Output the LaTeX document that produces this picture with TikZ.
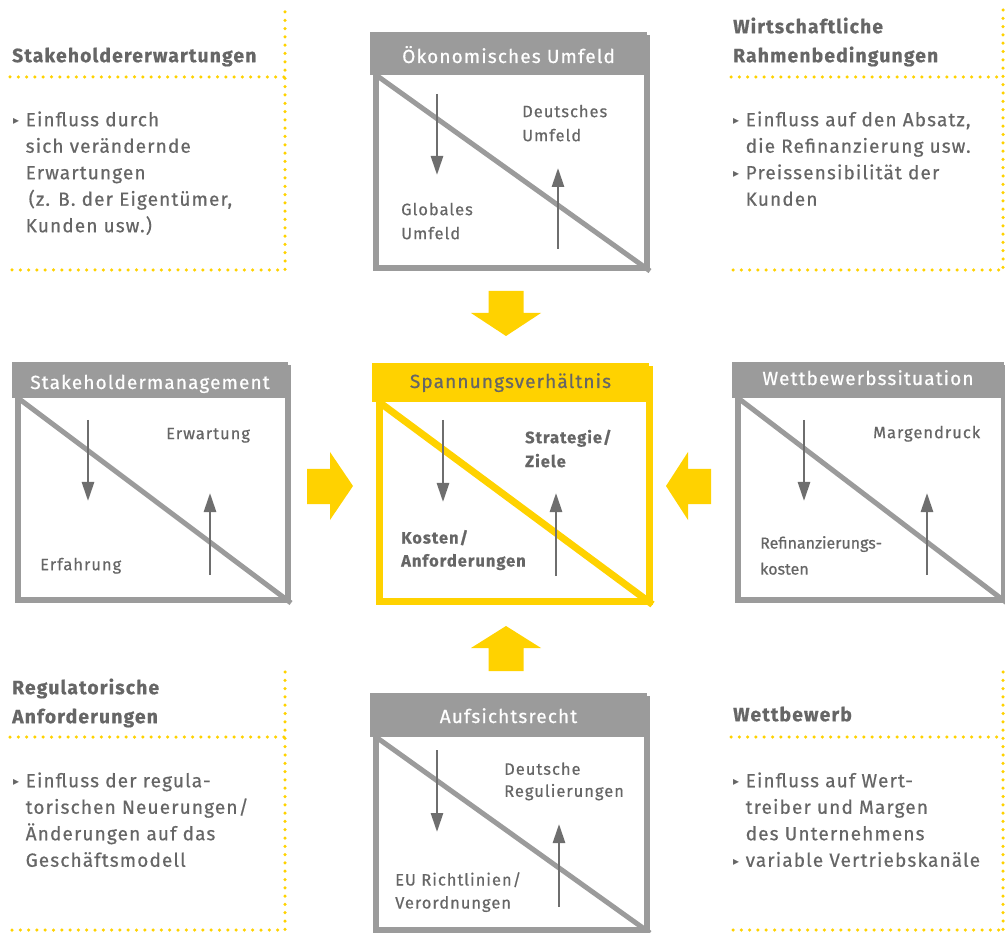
\documentclass[tikz,border=0pt]{standalone}
\usepackage{fontspec}
\setmainfont{Fira Sans}[LetterSpace=6, FakeBold=0.6]
\newfontfamily\plainfont{Fira Sans}[FakeBold=0.6]
\newfontfamily\symfont{DejaVu Sans}
\usetikzlibrary{arrows.meta}

\definecolor{eygray}{HTML}{9B9B9B}
\definecolor{eytext}{HTML}{666666}
\definecolor{eyarrow}{HTML}{6E6E6E}
\definecolor{eyyellow}{HTML}{FFD200}

% bullet and hanging indent for the side lists
\newcommand{\bul}{\makebox[12.5pt][l]{\raisebox{1.5pt}{\symfont\fontsize{12}{12}\selectfont ▸}}}
\newcommand{\ind}{\hspace*{12.5pt}}

\begin{document}
\begin{tikzpicture}[
    x=1pt, y=-1pt,
    >={Triangle[width=12pt,length=19pt]},
    frame/.style={draw=eygray, line width=6pt, inner sep=0pt, anchor=north west},
    head/.style={fill=eygray, inner sep=0pt, anchor=north west},
    headtext/.style={anchor=base, text=white, inner sep=0pt, font=\fontsize{19}{19}\selectfont},
    diag/.style={draw=eygray, line width=5pt},
    pull/.style={->, draw=eyarrow, line width=2.7pt},
    inlabel/.style={anchor=north west, align=left, text=eytext, inner sep=0pt,
      font=\fontsize{16.5}{24}\selectfont},
    title/.style={anchor=north west, align=left, text=eytext, inner sep=0pt,
      font=\fontsize{19.3}{29}\selectfont\bfseries},
    body/.style={anchor=north west, align=left, text=eytext, inner sep=0pt,
      font=\fontsize{19}{26.5}\selectfont},
    dots/.style={draw=eyyellow, line width=3.5pt, line cap=round, dash pattern=on 0pt off 8.3pt},
    flow/.style={fill=eyyellow},
  ]
  \useasboundingbox (0,0) rectangle (1005,933);

  % dotted info frames
  \draw[dots] (285,12) -- (285,270);
  \draw[dots] (10,77) -- (285,77);
  \draw[dots] (12,270) -- (285,270);
  \draw[dots] (1003,10) -- (1003,270);
  \draw[dots] (731,77) -- (1003,77);
  \draw[dots] (733,270) -- (1003,270);
  \draw[dots] (285,672) -- (285,930);
  \draw[dots] (10,737) -- (285,737);
  \draw[dots] (12,930) -- (285,930);
  \draw[dots] (1003,672) -- (1003,930);
  \draw[dots] (731,737) -- (1003,737);
  \draw[dots] (733,930) -- (1003,930);

  % info texts
  \node[title] (stakett) at (12,41.7) {\strut Stakeholdererwartungen};
  \node[body] (staketx) at (13,107.5) {\strut\bul Einfluss durch\\ \ind sich verändernde\\ \ind Erwartungen\\
    \ind\hspace*{3pt}(z. B. der Eigentümer,\\ \ind Kunden usw.)};
  \node[title] (wirttt) at (733,12.7) {\strut Wirtschaftliche\\ Rahmenbedingungen};
  \node[body] (wirttx) at (733,107.5) {\strut\bul Einfluss auf den Absatz,\\ \ind die Refinanzierung usw.\\
    \bul Preissensibilität der\\ \ind Kunden};
  \node[title] (regutt) at (12,673.7) {\strut Regulatorische\\ Anforderungen};
  \node[body] (regutx) at (13,768.5) {\strut\bul Einfluss der regula-\\ \ind torischen Neuerungen/\\
    \ind Änderungen auf das\\ \ind Geschäftsmodell};
  \node[title] (wetttt) at (733,700.7) {\strut Wettbewerb};
  \node[body] (wetttx) at (733,768.5) {\strut\bul Einfluss auf Wert-\\ \ind treiber und Margen\\
    \ind des Unternehmens\\ \bul variable Vertriebskanäle};

  % Oekonomisches Umfeld
  \node[frame, minimum width=271, minimum height=230] (eco) at (373,35) {};
  \draw[diag] (376,75) -- (eco.south east);
  \node[head, minimum width=277, minimum height=43] (ecohead) at (370,32) {};
  \node[headtext] (ecottl) at (508.5,63) {Ökonomisches Umfeld};
  \draw[pull] (437,94) -- (437,175);
  \draw[pull] (558,249) -- (558,168);
  \node[inlabel] (ecode) at (522,100.2) {\strut Deutsches\\ Umfeld};
  \node[inlabel] (ecogl) at (401,198.2) {\strut Globales\\ Umfeld};

  % Stakeholdermanagement
  \node[frame, minimum width=270, minimum height=232] (stake) at (15,365) {};
  \draw[diag] (18,398) -- (stake.south east);
  \node[head, minimum width=276, minimum height=36] (stakehead) at (12,362) {};
  \node[headtext] (stakettl) at (150,389) {Stakeholdermanagement};
  \draw[pull] (88,420) -- (88,501);
  \draw[pull] (210,575) -- (210,493);
  \node[inlabel] (stakeerw) at (166,422.2) {\strut Erwartung};
  \node[inlabel] (stakeerf) at (40,553.2) {\strut Erfahrung};

  % Spannungsverhaeltnis
  \node[frame, draw=eyyellow, line width=7pt, minimum width=270, minimum height=231] (span) at (375.5,366.5) {};
  \draw[diag, draw=eyyellow, line width=7pt] (379,402) -- (span.south east);
  \node[head, fill=eyyellow, minimum width=277, minimum height=39] (spanhead) at (372,363) {};
  \node[headtext, text=eytext] (spanttl) at (510.5,388) {Spannungsverhältnis};
  \draw[pull] (443,420) -- (443,502);
  \draw[pull] (556,576) -- (556,493);
  \node[inlabel, font=\fontsize{16.5}{24}\selectfont\bfseries] (spanstr) at (525,426.2) {\strut Strategie/\\ Ziele};
  \node[inlabel, font=\fontsize{16.5}{23}\selectfont\bfseries] (spanko) at (401,527.2) {\strut Kosten/\\ Anforderungen};

  % Wettbewerbssituation
  \node[frame, minimum width=266, minimum height=232] (wett) at (735,365) {};
  \draw[diag] (738,398) -- (wett.south east);
  \node[head, minimum width=272, minimum height=36] (wetthead) at (732,362) {};
  \node[headtext] (wettttl) at (868,385) {Wettbewerbssituation};
  \draw[pull] (804,420) -- (804,501);
  \draw[pull] (927,575) -- (927,493);
  \node[inlabel] (wettmar) at (873,421.2) {\strut Margendruck};
  \node[inlabel, font=\plainfont\fontsize{16}{26}\selectfont] (wettref) at (760,530.2) {\strut Refinanzierungs-\\ kosten};

  % Aufsichtsrecht
  \node[frame, minimum width=271, minimum height=231] (aufs) at (373,696) {};
  \draw[diag] (376,737) -- (aufs.south east);
  \node[head, minimum width=277, minimum height=44] (aufshead) at (370,693) {};
  \node[headtext] (aufsttl) at (508.5,723) {Aufsichtsrecht};
  \draw[pull] (437,750) -- (437,832);
  \draw[pull] (559,907) -- (559,824);
  \node[inlabel, font=\fontsize{16.5}{22}\selectfont] (aufsde) at (504,759.2) {\strut Deutsche\\ Regulierungen};
  \node[inlabel, font=\fontsize{16.5}{23}\selectfont] (aufseu) at (395,869.2) {\strut EU Richtlinien/\\ Verordnungen};

  % yellow arrows towards the centre
  \fill[flow] (506,336) -- (471,313) -- (488.5,313) -- (488.5,291) -- (523.5,291) -- (523.5,313) -- (541,313) -- cycle;
  \fill[flow] (506,626) -- (471,648) -- (488.5,648) -- (488.5,671) -- (523.5,671) -- (523.5,648) -- (541,648) -- cycle;
  \fill[flow] (353,486) -- (330,452) -- (330,469) -- (307,469) -- (307,504) -- (330,504) -- (330,520) -- cycle;
  \fill[flow] (666,486) -- (688,452) -- (688,469) -- (711,469) -- (711,504) -- (688,504) -- (688,520) -- cycle;
\end{tikzpicture}
\end{document}
